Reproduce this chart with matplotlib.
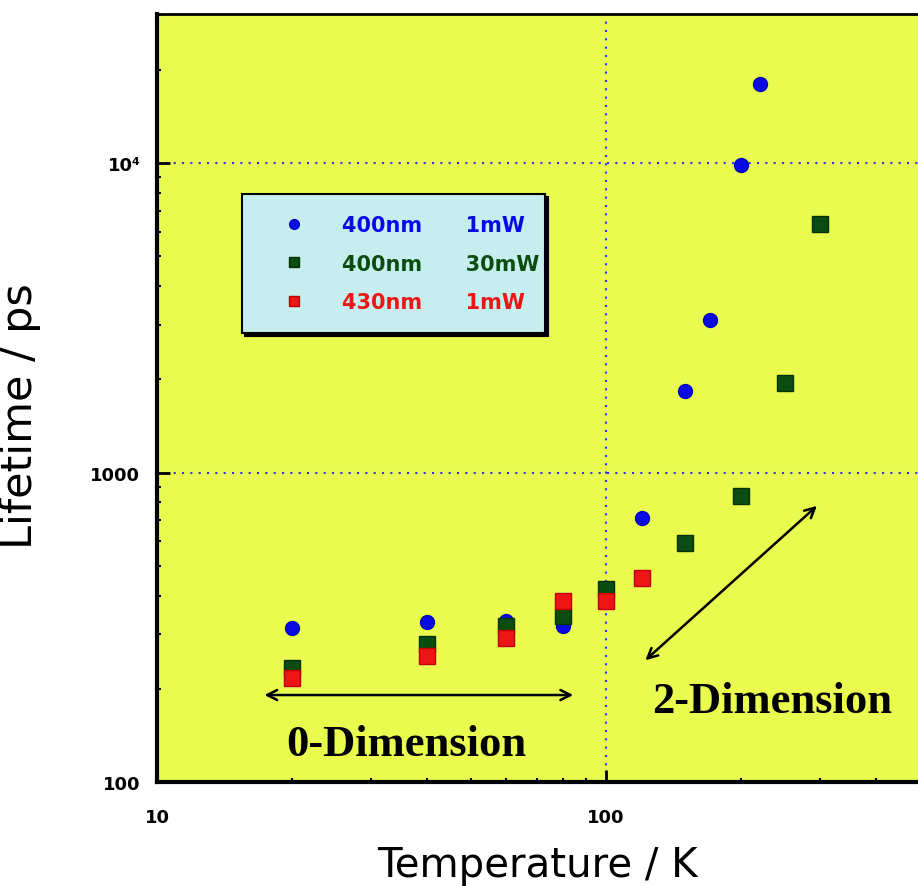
# -*- coding: utf-8 -*-
# plot.py - Lifetime vs Temperature (log-log)

import matplotlib
matplotlib.use("Agg")
import matplotlib.pyplot as plt
from matplotlib.ticker import FixedLocator, FixedFormatter, LogLocator, NullFormatter

# data
T_blue = [20, 40, 60, 80, 100, 120, 150, 170, 200, 220]
tau_blue = [314, 328, 332, 320, 412, 711, 1840, 3110, 9850, 18000]
T_green = [20, 40, 60, 80, 100, 150, 200, 250, 300]
tau_green = [233, 279, 320, 344, 420, 590, 841, 1940, 6370]
T_red = [20, 40, 60, 80, 100, 120]
tau_red = [216, 256, 291, 384, 385, 455]

gap = " " * 6
labels = ["400nm" + gap + "1mW", "400nm" + gap + "30mW", "430nm" + gap + "1mW"]

x_ticks = [10, 100]
x_tick_labels = ["10", "100"]
y_ticks = [100, 1000, 10000]
y_tick_labels = ["100", "1000", "10⁴"]

# annotation arrows (start, end) in data coords
arrow0 = ((17.1, 191), (85.7, 191))
arrow2 = ((121, 244), (298, 791))
text0 = (35.9, 133)
text2 = (234, 183)

plt.rcParams["font.family"] = ["DejaVu Sans"]

fig = plt.figure(figsize=(9.18, 8.87), dpi=100)
ax = fig.add_axes([157 / 918, 1 - 783 / 887, 761 / 918, 768 / 887])
ax.set_facecolor("#e9fb4f")
ax.set_xscale("log")
ax.set_yscale("log")
ax.set_xlim(10, 495)
ax.set_ylim(100, 30300)

ax.plot(T_blue, tau_blue, "o", color="#0a0ae6", mec="#0000c0", ms=10, label=labels[0], zorder=3)
ax.plot(T_green, tau_green, "s", color="#0b4d10", mec="#063006", ms=11, label=labels[1], zorder=4)
ax.plot(T_red, tau_red, "s", color="#ee1515", mec="#c00000", ms=11, label=labels[2], zorder=5)

# ticks
ax.xaxis.set_major_locator(FixedLocator(x_ticks))
ax.xaxis.set_major_formatter(FixedFormatter(x_tick_labels))
ax.xaxis.set_minor_locator(LogLocator(base=10, subs=range(2, 10)))
ax.xaxis.set_minor_formatter(NullFormatter())
ax.yaxis.set_major_locator(FixedLocator(y_ticks))
ax.yaxis.set_major_formatter(FixedFormatter(y_tick_labels))
ax.yaxis.set_minor_locator(LogLocator(base=10, subs=range(2, 10)))
ax.yaxis.set_minor_formatter(NullFormatter())
ax.tick_params(which="major", direction="in", length=9, width=2, top=False, right=False)
ax.tick_params(which="minor", direction="in", length=3, width=1.5, top=False, right=False)
ax.tick_params(axis="x", which="major", pad=19)
ax.tick_params(axis="y", which="major", pad=12)
for lab in ax.get_xticklabels() + ax.get_yticklabels():
    lab.set_fontweight("bold")
    lab.set_fontsize(13)

ax.grid(which="major", color="#3030ff", linestyle=(0, (1, 3)), linewidth=1.5)
ax.grid(which="minor", visible=False)

for side in ["left", "bottom"]:
    ax.spines[side].set_linewidth(3)
ax.spines["top"].set_linewidth(2)
ax.spines["right"].set_visible(False)

ax.set_xlabel("Temperature / K", fontsize=29)
ax.set_ylabel("Lifetime / ps", fontsize=31)
ax.xaxis.set_label_coords(0.5, -0.082)
ax.yaxis.set_label_coords(-0.152, 0.478)

# arrows and region labels
ax.annotate("", xy=arrow0[1], xytext=arrow0[0],
            arrowprops=dict(arrowstyle="<->", color="black", lw=1.8, mutation_scale=18))
ax.annotate("", xy=arrow2[1], xytext=arrow2[0],
            arrowprops=dict(arrowstyle="<->", color="black", lw=1.8, mutation_scale=18))
ax.text(*text0, "0-Dimension", family="Liberation Serif", fontweight="bold",
        fontsize=32, ha="center", va="center")
ax.text(*text2, "2-Dimension", family="Liberation Serif", fontweight="bold",
        fontsize=32, ha="center", va="center")

leg = ax.legend(loc="upper left", bbox_to_anchor=(0.1117, 0.6656, 0.398, 0.1),
                mode="expand", borderaxespad=0, frameon=True, fancybox=False,
                shadow={"color": "black", "alpha": 1},
                facecolor="#c6eeee", edgecolor="black", framealpha=1,
                prop={"family": ["DejaVu Sans"], "size": 15, "weight": "bold"},
                labelcolor="markerfacecolor", borderpad=1.0, labelspacing=0.9,
                handlelength=3.0, handletextpad=0.8)
leg.get_frame().set_linewidth(1.5)
for h in leg.legend_handles:
    h.set_markersize(7)

plt.savefig("out.png", dpi=100)
plt.close()
